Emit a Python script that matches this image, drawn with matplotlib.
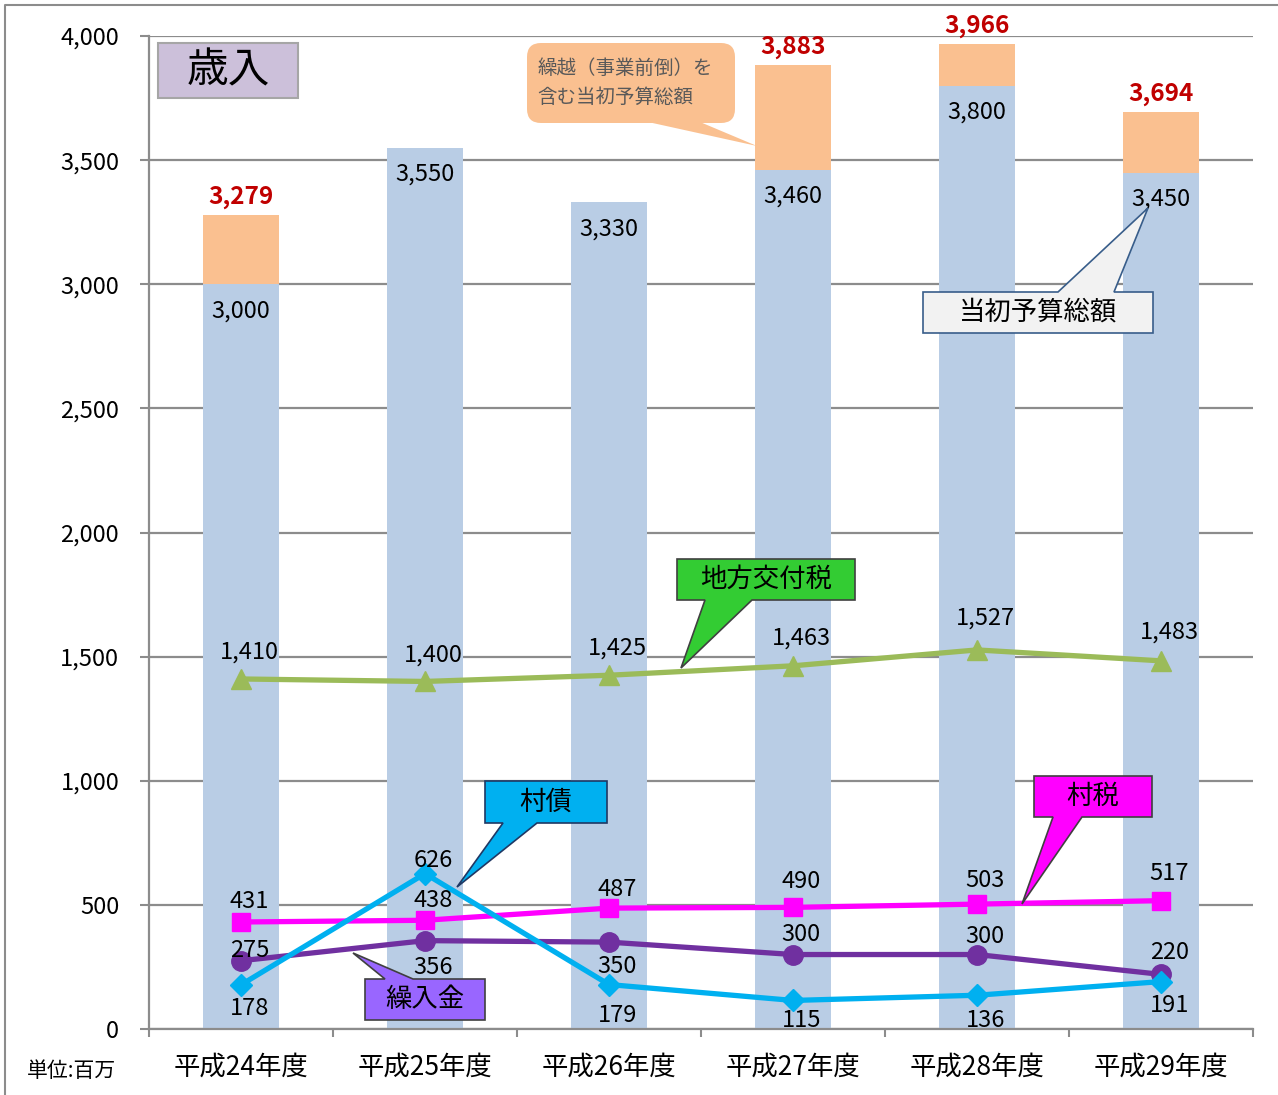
import numpy as np
import matplotlib.pyplot as plt
import matplotlib.transforms as mtransforms
from matplotlib.patches import Polygon, FancyBboxPatch
from matplotlib.lines import Line2D
from matplotlib.ticker import FuncFormatter

plt.rcParams['font.family'] = ['Noto Sans CJK JP', 'DejaVu Sans']

# data (百万円)
years = ['平成24年度', '平成25年度', '平成26年度', '平成27年度', '平成28年度', '平成29年度']
budget = [3000, 3550, 3330, 3460, 3800, 3450]
budget_total = [3279, np.nan, np.nan, 3883, 3966, 3694]
kofuzei = [1410, 1400, 1425, 1463, 1527, 1483]
sonzei = [431, 438, 487, 490, 503, 517]
kurikomi = [275, 356, 350, 300, 300, 220]
sonsai = [178, 626, 179, 115, 136, 191]

# label offsets in pixels (negative = above point)
kofuzei_off = [-27, -26, -27, -28, -32, -29]
sonzei_off = [-21, -20, -19, -26, -24, -27]
kurikomi_off = [-10, 27, 24, -20, -18, -22]
sonsai_off = [24, -13, 31, 20, 25, 24]

W, H = 1278, 1095
fig = plt.figure(figsize=(W / 100, H / 100), dpi=100)
ax = fig.add_axes([149 / W, 1 - 1029 / H, 1104 / W, 993 / H])
# pixel coords, origin top-left, for decorations
px = mtransforms.Affine2D().scale(1 / W, -1 / H).translate(0, 1) + fig.transFigure

x = np.arange(len(years))
budget = np.array(budget, float)
budget_total = np.array(budget_total, float)
extra = np.where(np.isnan(budget_total), 0, budget_total - budget)

ax.bar(x, budget, width=0.41, color='#B9CDE5', zorder=2)
ax.bar(x, extra, bottom=budget, width=0.41, color='#FAC090', zorder=2)

for i, v in enumerate(budget):
    ax.annotate(f'{int(v):,}', (i, v), xytext=(0, -19), textcoords='offset points',
                ha='center', va='center', fontsize=17, zorder=5)
for i, v in enumerate(budget_total):
    if not np.isnan(v):
        ax.annotate(f'{int(v):,}', (i, v), xytext=(0, 13), textcoords='offset points',
                    ha='center', va='center', fontsize=17.5, fontweight='bold',
                    color='#C00000', annotation_clip=False)

series = [
    (kofuzei, kofuzei_off, '#9BBB59', '^', 14),
    (sonzei, sonzei_off, '#FF00FF', 's', 13),
    (kurikomi, kurikomi_off, '#7030A0', 'o', 14),
    (sonsai, sonsai_off, '#00B0F0', 'D', 11),
]
for vals, offs, col, mk, ms in series:
    ax.plot(x, vals, color=col, lw=3.8, marker=mk, ms=ms, zorder=4, clip_on=False)
    for i, (v, o) in enumerate(zip(vals, offs)):
        ax.annotate(f'{v:,}', (i, v), xytext=(6, -o * 0.72), textcoords='offset points',
                    ha='center', va='center', fontsize=17, zorder=5)

ax.set_xlim(-0.5, len(years) - 0.5)
ax.set_ylim(0, 4000)
ax.set_yticks(np.arange(0, 4001, 500))
ax.yaxis.set_major_formatter(FuncFormatter(lambda v, p: f'{int(v):,}'))
ax.yaxis.grid(True, color='#8C8C8C', lw=1.6)
ax.set_axisbelow(True)
ax.set_xticks(x)
ax.set_xticklabels(years, fontsize=19)
ax.set_xticks(np.arange(-0.5, len(years)), minor=True)
ax.tick_params(axis='x', which='major', length=0, pad=18)
ax.tick_params(axis='x', which='minor', length=6, color='#8C8C8C', width=1.5)
ax.tick_params(axis='y', length=6.5, color='#8C8C8C', width=1.5, labelsize=17, pad=15)
for s in ['top', 'right']:
    ax.spines[s].set_visible(False)
for s in ['left', 'bottom']:
    ax.spines[s].set_color('#8C8C8C')
    ax.spines[s].set_linewidth(1.6)

# outer frame
fig.add_artist(Line2D([5, 5, W], [H, 5, 5], transform=px, color='#8C8C8C', lw=1.5))
fig.text(1200, -7, '単位：百万円', transform=px, ha='center', va='center',
         fontsize=13, color='#404040')
fig.text(72, 1071, '単位:百万', transform=px, ha='center', va='center', fontsize=15)


def callout(box, tail, text, fc, ec, fs, side='bottom', tcol='black'):
    x0, y0, x1, y1 = box
    b1, b2, tx, ty = tail
    if side == 'bottom':
        verts = [(x0, y0), (x1, y0), (x1, y1), (b2, y1), (tx, ty), (b1, y1), (x0, y1)]
    else:
        verts = [(x0, y0), (b1, y0), (tx, ty), (b2, y0), (x1, y0), (x1, y1), (x0, y1)]
    fig.add_artist(Polygon(verts, closed=True, transform=px, facecolor=fc,
                           edgecolor=ec, lw=1.2, zorder=6))
    fig.text((x0 + x1) / 2, (y0 + y1) / 2, text, transform=px, ha='center',
             va='center', fontsize=fs, color=tcol, zorder=7)


# title box
fig.add_artist(Polygon([(158, 43), (298, 43), (298, 98), (158, 98)], closed=True,
                       transform=px, facecolor='#CCC0DA', edgecolor='#A6A6A6',
                       lw=1.5, zorder=6))
fig.text(228, 71, '歳入', transform=px, ha='center', va='center', fontsize=30, zorder=7)

# rounded orange callout
fig.add_artist(FancyBboxPatch((527, 43), 208, 80, boxstyle='round,pad=0,rounding_size=14',
                              transform=px, facecolor='#FAC090', edgecolor='none', zorder=6))
fig.add_artist(Polygon([(648, 122), (757, 146), (700, 122)], closed=True, transform=px,
                       facecolor='#FAC090', edgecolor='none', zorder=6))
fig.text(537, 83, '繰越（事業前倒）を\n含む当初予算総額', transform=px, ha='left',
         va='center', fontsize=14, color='#595959', linespacing=1.55, zorder=7)

callout((923, 292, 1153, 333), (1058, 1114, 1148, 208), '当初予算総額',
        '#F2F2F2', '#385D8A', 19, side='top')
callout((677, 559, 855, 600), (705, 752, 681, 668), '地方交付税',
        '#33CC33', '#404040', 19)
callout((485, 781, 607, 823), (503, 537, 457, 887), '村債',
        '#00B0F0', '#1F3864', 19)
callout((1034, 776, 1152, 817), (1053, 1082, 1022, 904), '村税',
        '#FF00FF', '#404040', 19)
callout((365, 979, 485, 1020), (385, 413, 353, 953), '繰入金',
        '#9966FF', '#404040', 19, side='top')

fig.savefig('out.png', dpi=100)
